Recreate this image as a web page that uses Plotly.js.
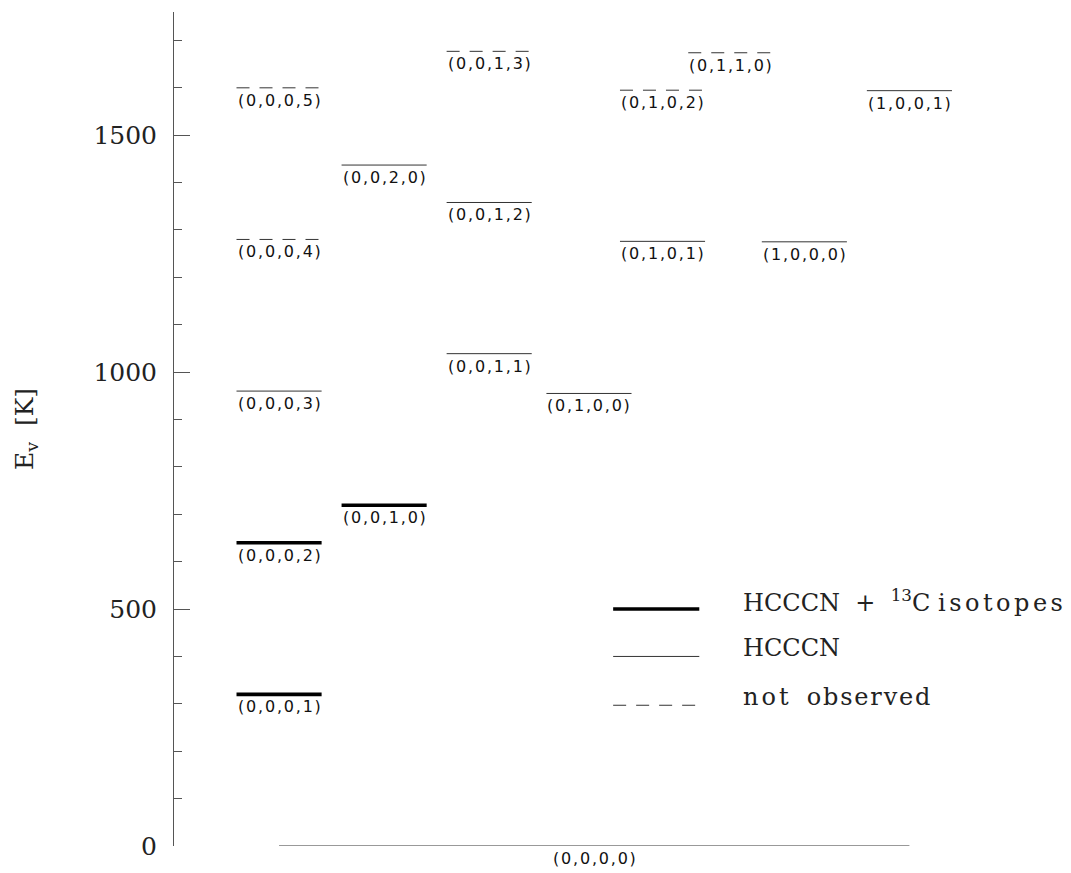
<!DOCTYPE html>
<html>
<head>
<meta charset="utf-8">
<script src="https://cdn.plot.ly/plotly-3.0.1.min.js"></script>
<style>html,body{margin:0;padding:0;background:#fff;}</style>
</head>
<body>
<div id="chart" style="width:1071px;height:873px;"></div>
<script>
// Vibrational states (v1,v2,v3,v4) of HCCCN and their energies
const states = ['(0,0,0,0)', '(0,0,0,1)', '(0,0,0,2)', '(0,0,0,3)', '(0,0,0,4)', '(0,0,0,5)',
  '(0,0,1,0)', '(0,0,2,0)', '(0,0,1,1)', '(0,0,1,2)', '(0,0,1,3)',
  '(0,1,0,0)', '(0,1,0,1)', '(0,1,0,2)', '(0,1,1,0)', '(1,0,0,0)', '(1,0,0,1)'];
const energies = [0, 320, 640, 960, 1280, 1600,
  719, 1437, 1039, 1358, 1677,
  955, 1276, 1595, 1674, 1275, 1594];
// both = HCCCN + 13C isotopes, main = HCCCN, none = not observed
const detection = ['main', 'both', 'both', 'main', 'none', 'none',
  'both', 'main', 'main', 'main', 'none',
  'main', 'main', 'none', 'none', 'main', 'main'];
const categories = ['both', 'main', 'none'];
const legendLabels = [
  'HCCCN\u00a0\u00a0+\u00a0\u00a0<sup>13</sup>C\u00a0<span style="letter-spacing:3.5px">isotopes</span>',
  'HCCCN',
  '<span style="letter-spacing:3px">not</span>\u00a0\u00a0<span style="letter-spacing:1.8px">observed</span>'
];
const yTickVals = [0, 500, 1000, 1500];

// Horizontal placement of each level (column centre and half length)
const colCenter = [4, 1, 1, 1, 1, 1, 2, 2, 3, 3, 3, 3.95, 4.65, 4.65, 5.3, 6, 7];
const colHalf = [3, 0.405, 0.405, 0.405, 0.405, 0.405, 0.405, 0.405, 0.405, 0.405, 0.405,
  0.405, 0.405, 0.405, 0.405, 0.405, 0.405];

const lineStyle = {
  both: {color: '#000', width: 3.6},
  main: {color: '#333', width: 1},
  none: {color: '#333', width: 1, dash: '13px,10px'}
};

const traces = states.map((s, i) => ({
  type: 'scatter',
  mode: 'lines',
  x: [colCenter[i] - colHalf[i], colCenter[i] + colHalf[i]],
  y: [energies[i], energies[i]],
  line: lineStyle[detection[i]],
  hoverinfo: 'skip',
  showlegend: false
}));

// State labels: loosely tracked sans text under each level
const labelFont = {family: 'DejaVu Sans', size: 16, color: '#111'};
const spaced = t => '<span style="letter-spacing:1.8px">' + t + '</span>';
const annotations = states.map((s, i) => ({
  x: colCenter[i], y: energies[i], xref: 'x', yref: 'y',
  text: spaced(s), showarrow: false, xanchor: 'center', yanchor: 'top',
  yshift: -1, xshift: 1, font: labelFont
}));

// Legend keys drawn inside the plot area
const legendY = [500, 400, 297];
const legendX0 = 4.18, legendX1 = 5.0, legendTextX = 5.40;
const shapes = categories.map((c, k) => ({
  type: 'line', xref: 'x', yref: 'y',
  x0: legendX0, x1: legendX1, y0: legendY[k], y1: legendY[k],
  line: lineStyle[c]
}));
categories.forEach((c, k) => {
  annotations.push({
    x: legendTextX, y: legendY[k], xref: 'x', yref: 'y',
    text: legendLabels[k], showarrow: false, xanchor: 'left', yanchor: 'middle',
    yshift: 8, font: {family: 'DejaVu Serif', size: 24, color: '#222'}
  });
});

const layout = {
  width: 1071, height: 873,
  margin: {l: 174, r: 4, t: 12, b: 27},
  paper_bgcolor: '#fff', plot_bgcolor: '#fff',
  showlegend: false,
  xaxis: {range: [0, 8.5], visible: false, fixedrange: true},
  yaxis: {
    range: [0, 1760], showgrid: false, zeroline: false,
    showline: true, linecolor: '#555', linewidth: 1,
    ticks: 'inside', ticklen: 16, tickwidth: 1, tickcolor: '#555',
    tickmode: 'array', tickvals: yTickVals, ticktext: yTickVals.map(String),
    ticklabelstandoff: 11,
    minor: {dtick: 100, tick0: 0, ticks: 'inside', ticklen: 8, tickwidth: 1, tickcolor: '#555'},
    tickfont: {family: 'DejaVu Serif', size: 25, color: '#222'},
    title: {text: 'E<sub>v</sub>\u00a0\u00a0[K]', standoff: 52, font: {family: 'DejaVu Serif', size: 25, color: '#222'}},
    automargin: false
  },
  annotations: annotations,
  shapes: shapes
};

Plotly.newPlot('chart', traces, layout, {staticPlot: true, displayModeBar: false});
</script>
</body>
</html>
